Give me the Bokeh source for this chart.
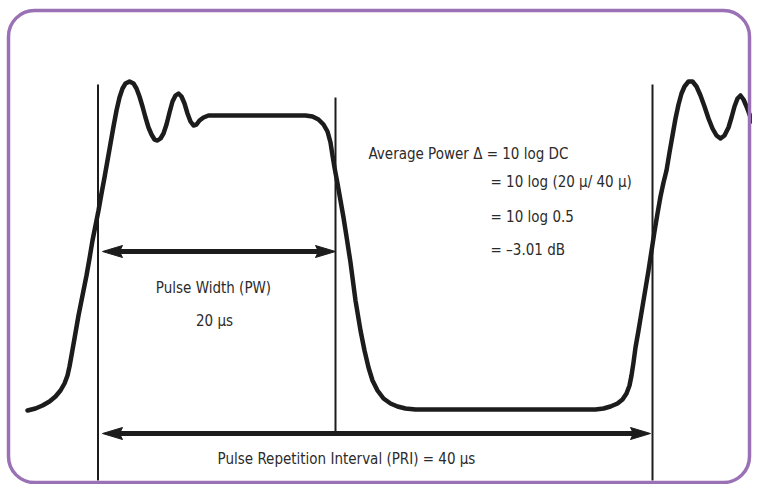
from bokeh.plotting import figure
from bokeh.models import Range1d, BoxAnnotation
from bokeh.core.properties import value
from bokeh.embed import file_html
from bokeh.resources import INLINE

# ---- diagram data (diagram units, y grows downward) ----
wave_x = [27, 35, 42, 49, 55, 60, 64, 67, 69, 71, 74, 78, 82, 86, 89, 92, 95, 98, 101, 104,
          107, 110, 113, 116, 119, 122, 125, 129, 133, 136, 139, 142, 145, 148, 151, 154, 157,
          160, 163, 166, 169, 172, 175, 178, 181, 184, 187, 190, 193, 196, 199, 203, 208, 215,
          305, 312, 318, 323, 327, 330, 332, 334, 337, 340, 343, 346, 350, 355, 360, 364, 368,
          372, 377, 383, 390, 397, 405, 415,
          595, 603, 610, 617, 622, 626, 629, 631, 633, 635, 638, 640, 642, 644, 646, 648, 650,
          652, 654, 657, 660, 663, 666, 669, 672, 675, 678, 681, 684, 688, 692, 696, 700, 704,
          708, 712, 716, 720, 724, 728, 731, 734, 737, 740, 743, 746, 749, 752]
wave_y = [410, 408, 405, 401, 396, 390, 383, 375, 366, 355, 338, 315, 295, 275, 258, 240, 225, 210, 193, 177,
          160, 143, 126, 110, 97, 88, 83, 81, 83, 88, 96, 106, 117, 127, 134, 139, 140,
          138, 133, 124, 112, 101, 95, 93, 96, 103, 113, 121, 125, 124, 120, 117, 115, 115,
          115, 116, 119, 124, 131, 142, 155, 167, 183, 200, 217, 236, 262, 300, 330, 350, 367,
          380, 390, 398, 403, 406, 408, 409,
          409, 408, 406, 403, 399, 393, 385, 375, 362, 347, 330, 318, 306, 294, 282, 270, 257,
          244, 231, 213, 196, 182, 170, 152, 135, 118, 104, 93, 86, 81, 81, 86, 95, 106,
          118, 128, 135, 138, 135, 127, 117, 106, 98, 95, 99, 106, 114, 121]

marker_x = [97.5, 335, 652]
marker_top = [84, 97, 84]
marker_bottom = [480, 435, 480]

arrow_start = [102, 102]
arrow_end = [335, 650]
arrow_y = [251, 433]

label_text = ["Pulse Width (PW)", "20 µs", "Pulse Repetition Interval (PRI) = 40 µs"]
label_x = [213, 214, 346]
label_y = [287, 320, 458]

formula_text = ["Average Power Δ = 10 log DC", "= 10 log (20 µ/ 40 µ)", "= 10 log 0.5", "= –3.01 dB"]
formula_x = [368, 490, 490, 490]
formula_y = [153, 181, 216, 249]

INK = "#1c1c1c"
TEXT = "#2b2b2b"
PURPLE = "#9a71b5"
FONT = "DejaVu Sans Condensed, Liberation Sans Narrow, Roboto, sans-serif"

p = figure(width=752, height=484, output_backend="svg", toolbar_location=None,
           x_range=Range1d(0, 752), y_range=Range1d(484, 0),
           min_border=0, outline_line_color=None)
p.axis.visible = False
p.grid.visible = False
p.background_fill_color = "white"

# rounded purple frame
p.add_layout(BoxAnnotation(left=8, right=749, top=10, bottom=482, fill_alpha=0,
                           line_color=PURPLE, line_alpha=1.0, line_width=3.5,
                           border_radius=26))

# vertical markers
p.segment(x0=marker_x, y0=marker_top, x1=marker_x, y1=marker_bottom,
          line_color=INK, line_width=2)

# waveform
p.line(wave_x, wave_y, line_color=INK, line_width=4.5, line_join="round", line_cap="round")

# double arrows
HEAD_L, HEAD_W = 20, 12
sx0 = [a + HEAD_L * 0.7 for a in arrow_start]
sx1 = [b - HEAD_L * 0.7 for b in arrow_end]
p.segment(x0=sx0, y0=arrow_y, x1=sx1, y1=arrow_y, line_color=INK, line_width=5)
hx, hy = [], []
for a, b, y in zip(arrow_start, arrow_end, arrow_y):
    hx.append([a, a + HEAD_L, a + HEAD_L * 0.85, a + HEAD_L])
    hy.append([y, y - HEAD_W / 2, y, y + HEAD_W / 2])
    hx.append([b, b - HEAD_L, b - HEAD_L * 0.85, b - HEAD_L])
    hy.append([y, y - HEAD_W / 2, y, y + HEAD_W / 2])
p.patches(hx, hy, fill_color=INK, line_color=INK, line_width=1)

# labels
p.text(x=label_x, y=label_y, text=label_text, text_align="center", text_baseline="alphabetic",
       text_font=value(FONT), text_font_size="15px", text_color=TEXT)
p.text(x=formula_x, y=formula_y, text=formula_text, text_align="left", text_baseline="alphabetic",
       text_font=value(FONT), text_font_size="15px", text_color=TEXT)

open("out.html", "w").write(file_html(p, INLINE))
